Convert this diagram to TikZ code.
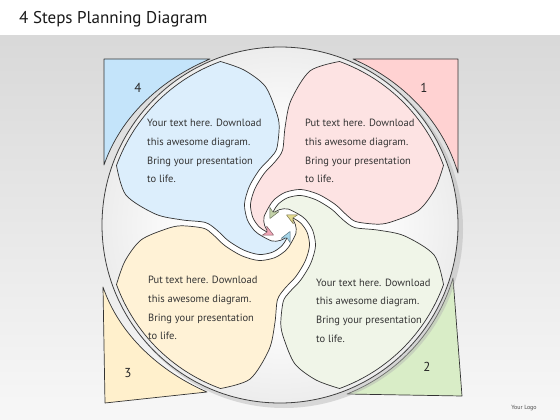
\documentclass[tikz,border=0pt]{standalone}
\usepackage{fontspec}
\setmainfont{PT Sans}
\definecolor{lobeblue}{HTML}{DCEEFC}
\definecolor{lobepink}{HTML}{FDE3E3}
\definecolor{lobegreen}{HTML}{F0F5E8}
\definecolor{lobeyellow}{HTML}{FFF2D6}
\definecolor{cornerblue}{HTML}{C4E4FA}
\definecolor{cornerpink}{HTML}{FFD2D2}
\definecolor{cornergreen}{HTML}{D9EDC7}
\definecolor{corneryellow}{HTML}{FFF0CC}
\definecolor{arrowblue}{HTML}{A6D6EA}
\definecolor{arrowpink}{HTML}{EFA6B6}
\definecolor{arrowgreen}{HTML}{C3D2A8}
\definecolor{arrowyellow}{HTML}{E2D98E}
\colorlet{rimA}{black!10}
\colorlet{rimB}{black!28}
\colorlet{rimC}{black!45}
\pgfdeclareradialshading{discshade}{\pgfpoint{0bp}{0bp}}{color(0bp)=(white); color(12bp)=(white); color(30bp)=(rimA); color(44bp)=(rimB); color(50bp)=(rimC); color(60bp)=(rimC)}
% one lobe with its tail, top-left position, centre of the disc at the origin
\newcommand{\lobeshape}{(250:174) arc[start angle=250, end angle=200, radius=174]
  -- plot[smooth] coordinates {(-163.5,-59.5) (-154.1,-30.0) (-124.5,-10.9) (-97.9,-5.1) (-75.0,-2.6) (-63.8,4.5) (-51.6,15.8) (-36.0,25.2) (-20.7,29.5) (-7.3,27.1) (1.8,20.9) (6.0,14.8) (7.4,11.9)}
  -- plot[smooth] coordinates {(7.4,11.9) (0,15.5) (-8,16) (-18.0,11.1) (-25.3,5.9) (-32.6,-5.1) (-35.5,-21.0) (-30.7,-38.4) (-20.6,-55.2) (-9.2,-67.5) (-3.2,-76.6) (-0.8,-98.9) (-4,-114) (-15,-139) (-36,-155) (-59.5,-163.5)}
  -- cycle}
\begin{document}
\begin{tikzpicture}[x=1pt, y=-1pt,
    lobe/.style={fill=#1, draw=black!80, line width=0.7pt, line join=round},
    corner/.style={fill=#1, draw=black!80, line width=0.7pt, line join=round},
    pointer/.style={fill=#1, draw=#1!55!black, line width=0.5pt, line join=round},
    body/.style={anchor=north west, align=left, inner sep=0pt, text=black!80, font=\fontsize{10.5}{18.7}\selectfont},
    stepnum/.style={inner sep=0pt, text=black!85, font=\fontsize{13}{13}\selectfont}
]
    \useasboundingbox (0,0) rectangle (560,420);
    \fill[white] (0,0) rectangle (560,420);
    \shade[top color=black!15, bottom color=black!3] (0,36) rectangle (560,420);
    \node[anchor=west, inner sep=0pt, text=black!90, font=\fontsize{17}{17}\selectfont] (title) at (19,19) {4 Steps Planning Diagram};

    % corner pieces
    \draw[corner=cornerblue] (104,165) -- (104,59) -- (210,59) .. controls (161.7,79.3) and (121.2,115.5) .. (104,165) -- cycle;
    \draw[corner=cornerpink] (458,173) -- (458,59) -- (353,59) .. controls (402.6,80.7) and (442.5,121.1) .. (458,173) -- cycle;
    \draw[corner=cornergreen] (453,278) -- (462,396) -- (347,394) .. controls (398.3,373.6) and (437.2,330.9) .. (453,278) -- cycle;
    \draw[corner=corneryellow] (103,287) -- (105,403) -- (207,392) .. controls (160,371.4) and (119.7,335.5) .. (103,287) -- cycle;

    % disc
    \fill[black!30, opacity=0.45] (284,229) circle (179);
    \shade[shading=discshade] (280,225) circle (178);
    \draw[black!75, line width=0.8pt] (280,225) circle (178);

    % lobes
    \foreach \turn/\fillcol in {0/lobeblue, -90/lobepink, 180/lobegreen, 90/lobeyellow}
        \draw[lobe=\fillcol, shift={(280,225)}, rotate=\turn] \lobeshape;
    \foreach \turn/\fillcol in {0/arrowblue, -90/arrowpink, 180/arrowgreen, 90/arrowyellow}
        \draw[pointer=\fillcol, shift={(280,225)}, rotate=\turn] (10.0,6.5) -- (10.2,17.7) -- (7.0,12.8) -- (1.2,13.3) -- cycle;

    % step numbers
    \node[stepnum] (num4) at (138,88) {4};
    \node[stepnum] (num1) at (424,88) {1};
    \node[stepnum] (num2) at (427,367) {2};
    \node[stepnum] (num3) at (128,373) {3};

    % texts
    \node[body] (txt4) at (147,119) {Your text here. Download\\this awesome diagram.\\Bring your presentation\\to life.};
    \node[body] (txt1) at (305,119) {Put text here. Download\\this awesome diagram.\\Bring your presentation\\to life.};
    \node[body] (txt3) at (148,276) {Put text here. Download\\this awesome diagram.\\Bring your presentation\\to life.};
    \node[body] (txt2) at (316,278.5) {Your text here. Download\\this awesome diagram.\\Bring your presentation\\to life.};

    \node[inner sep=0pt, text=black!70, font=\fontsize{6}{6}\selectfont] (logo) at (524,408) {Your Logo};
\end{tikzpicture}
\end{document}
